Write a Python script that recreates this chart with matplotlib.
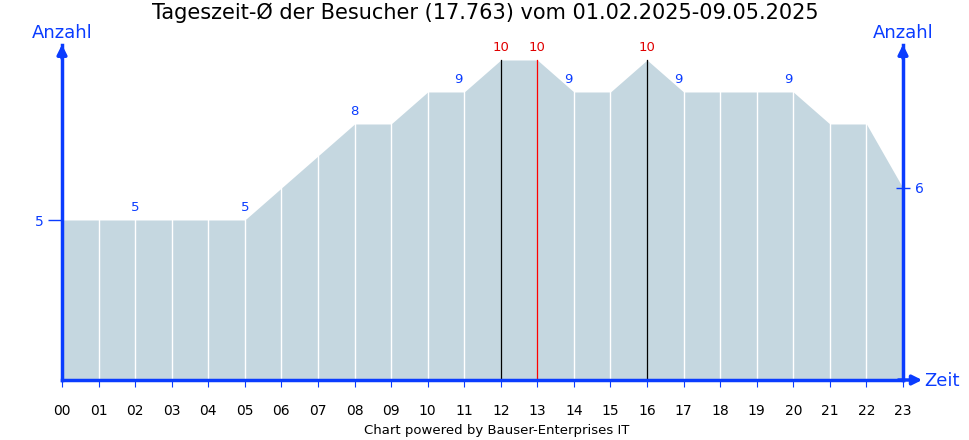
import matplotlib
matplotlib.use("Agg")
import matplotlib.pyplot as plt

hours = ["00","01","02","03","04","05","06","07","08","09","10","11",
         "12","13","14","15","16","17","18","19","20","21","22","23"]
values = [5,5,5,5,5,5,6,7,8,8,9,9,10,10,9,9,10,9,9,9,9,8,8,6]
labelled = {2:"b",5:"b",8:"b",11:"b",12:"r",13:"r",14:"b",16:"r",17:"b",20:"b"}
blue = "#0a3cff"

fig = plt.figure(figsize=(9.7,4.4), dpi=100)
ax = fig.add_axes([62/970, 60/440, 841/970, 335/440])
x = list(range(len(hours)))
ymax = 335/32
ax.fill_between(x, 0, values, color="#c5d7e0", lw=0)
for i, v in enumerate(values):
    c = "white"
    if i in (12, 16): c = "black"
    if i == 13: c = "red"
    ax.plot([i, i], [0, v], color=c, lw=0.9 if c != "white" else 1.0)
for i, c in labelled.items():
    ax.text(i - 0.15 if i in (11, 14, 17, 20) else i, values[i] + 0.2, str(values[i]),
            color="#e00000" if c == "r" else blue, ha="center", va="bottom", fontsize=9.5)
ax.set_xlim(0, 23)
ax.set_ylim(0, ymax)
for s in ["top"]:
    ax.spines[s].set_visible(False)
for s in ["left", "bottom", "right"]:
    ax.spines[s].set_color(blue)
    ax.spines[s].set_linewidth(2.5)
ax.spines["right"].set_bounds(0, ymax)
ax.set_xticks(x)
ax.set_xticklabels(hours, fontsize=10)
ax.tick_params(axis="x", length=5, color=blue, pad=12)
ax.set_yticks([5])
ax.set_yticklabels(["5"], color=blue, fontsize=10)
ax.tick_params(axis="y", length=10, color=blue, width=1)
ax2 = ax.twinx()
ax2.set_ylim(0, ymax)
ax2.set_yticks([6])
ax2.set_yticklabels(["6"], color=blue, fontsize=10)
ax2.tick_params(axis="y", length=10, color=blue, width=1, direction="inout")
for s in ax2.spines.values():
    s.set_visible(False)
# arrows
ax.annotate("", xy=(0, ymax + 0.1), xytext=(0, ymax - 0.5), xycoords="data",
            arrowprops=dict(arrowstyle="-|>", color=blue, lw=2.5, mutation_scale=14), annotation_clip=False)
ax.annotate("", xy=(23, ymax + 0.1), xytext=(23, ymax - 0.5), xycoords="data",
            arrowprops=dict(arrowstyle="-|>", color=blue, lw=2.5, mutation_scale=14), annotation_clip=False)
ax.annotate("", xy=(23.6, 0), xytext=(22.8, 0), xycoords="data",
            arrowprops=dict(arrowstyle="-|>", color=blue, lw=2.5, mutation_scale=14), annotation_clip=False)
fig.text(62/970, 1 - 33/440, "Anzahl", color=blue, fontsize=13, ha="center", va="center")
fig.text(903/970, 1 - 33/440, "Anzahl", color=blue, fontsize=13, ha="center", va="center")
fig.text(942/970, 1 - 381/440, "Zeit", color=blue, fontsize=13, ha="center", va="center")
fig.text(0.5, 1 - 13/440, "Tageszeit-Ø der Besucher (17.763) vom 01.02.2025-09.05.2025",
         fontsize=15, ha="center", va="center")
fig.text(497/970, 1 - 430/440, "Chart powered by Bauser-Enterprises IT", fontsize=9.5,
         ha="center", va="center")
fig.savefig("out.png", dpi=100)
